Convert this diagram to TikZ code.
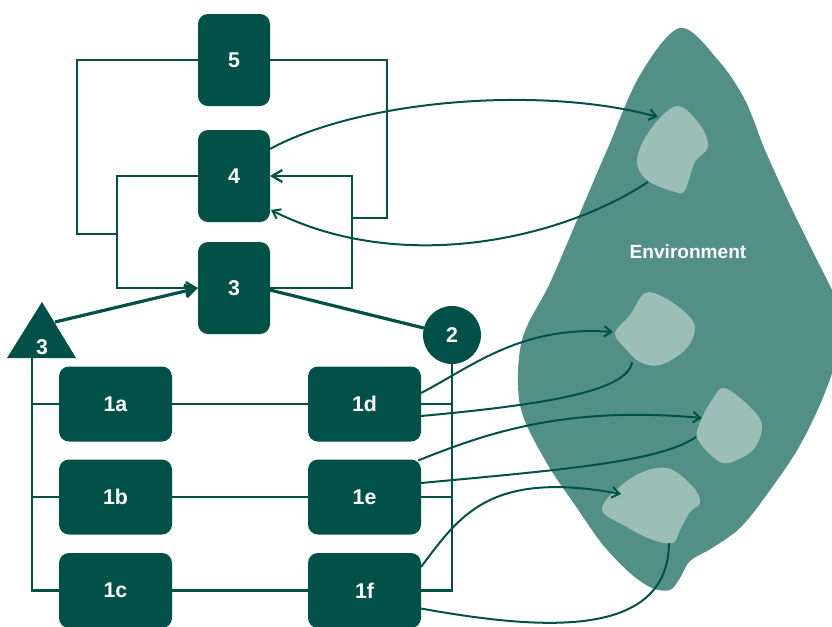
\documentclass[tikz,border=0pt]{standalone}
\usepackage{fontspec}
\setmainfont{Liberation Sans}
\usetikzlibrary{arrows.meta,calc}
\definecolor{dk}{RGB}{2,81,72}
\definecolor{envc}{RGB}{82,143,135}
\definecolor{lt}{RGB}{155,190,183}
\begin{document}
\begin{tikzpicture}[x=0.75pt,y=-0.75pt,
  box/.style={fill=dk,rounded corners=7.5pt,inner sep=0pt,outer sep=0pt,text=white,font=\bfseries\fontsize{16}{16}\selectfont},
  tall/.style={box,minimum width=54pt,minimum height=69pt},
  wide/.style={box,minimum width=84.75pt,minimum height=56.25pt},
  ln/.style={draw=dk,line width=1.7pt},
  thk/.style={draw=dk,line width=2.4pt},
  crv/.style={draw=dk,line width=1.5pt},
  arr/.style={-{Straight Barb[length=7.5pt,width=9pt]}},
  carr/.style={-{Straight Barb[length=5.5pt,width=8pt]}},
  lbl/.style={text=white,font=\bfseries\fontsize{16}{16}\selectfont,inner sep=0pt}
]
\useasboundingbox (0,0) rectangle (832,626);
\begin{scope}
\clip (0,0) rectangle (832,626);
\fill[envc] plot[smooth cycle,tension=0.55] coordinates {(680,28) (718,60) (745,100) (765,150) (790,205) (812,250) (836,300) (842,335) (826,390) (799,447) (765,497) (740,528) (712,548) (690,561) (680,578) (670,590) (652,588) (630,573) (603,545) (577,508) (545,460) (520,405) (522,340) (550,283) (580,213) (607,150) (640,75)};
\end{scope}
% light blobs
\fill[lt] plot[smooth cycle,tension=0.6] coordinates {(677,106) (700,125) (708,147) (695,162) (685,190) (675,192) (647,180) (637,160) (650,130)};
\fill[lt] plot[smooth cycle,tension=0.6] coordinates {(615,333) (630,315) (645,293) (665,298) (688,315) (695,330) (685,350) (660,365) (640,362) (625,348)};
\fill[lt] plot[smooth cycle,tension=0.6] coordinates {(725,388) (753,410) (762,427) (753,450) (728,463) (713,457) (697,437) (702,418) (712,400)};
\fill[lt] plot[smooth cycle,tension=0.6] coordinates {(602,508) (633,477) (667,468) (693,487) (700,503) (690,512) (680,530) (673,543) (653,540) (627,527)};
\node[lbl,font=\bfseries\fontsize{14.3}{14.3}\selectfont] (envlabel) at (688,252) {Environment};
\coordinate (bl1in) at (658,117);
\coordinate (bl1out) at (648,182);
\coordinate (bl2in) at (613,332);
\coordinate (bl2out) at (632,362);
\coordinate (bl3in) at (702,418);
\coordinate (bl3out) at (696,437);
\coordinate (bl4in) at (621,494);
\coordinate (bl4out) at (669,543);
% boxes
\node[tall] (b5) at (234,60) {5};
\node[tall] (b4) at (234,176) {4};
\node[tall] (b3) at (234,288) {3};
\node[wide] (b1a) at (115.5,404) {1a};
\node[wide] (b1b) at (115.5,497) {1b};
\node[wide] (b1c) at (115.5,590.5) {1c};
\node[wide] (b1d) at (364.5,404) {1d};
\node[wide] (b1e) at (364.5,497) {1e};
\node[wide] (b1f) at (364.5,590.5) {1f};
\node[circle,fill=dk,minimum size=43.5pt,inner sep=0pt,outer sep=0pt,text=white,font=\bfseries\fontsize{16}{16}\selectfont] (c2) at (452,335) {2};
% triangle
\fill[dk] (42,302) -- (76,358) -- (7,358) -- cycle;
\node[lbl] (t3) at (42,347) {3};
\coordinate (triR) at (55,322);
\coordinate (triB) at (32,358);
% loops around 3,4,5
\coordinate (lA) at (117,176);
\coordinate (lB) at (352,288);
\coordinate (lC) at (77,234);
\coordinate (lD) at (117,234);
\coordinate (lE) at (387,218);
\coordinate (lF) at (352,218);
\draw[ln] (b5.west) -| (lC) -- (lD);
\draw[ln] (b5.east) -| (lE) -- (lF);
\draw[ln,arr] (b4.west) -- (lA) |- (b3.west);
\draw[ln,arr] (b3.east) -- (lB) |- (b4.east);
\draw[thk,arr] (triR) -- (b3.west);
\draw[thk] ($(b3.east)+(0,2)$) -- (c2);
% left bus
\coordinate (L1) at (32,404);
\coordinate (L2) at (32,497);
\draw[ln] (triB) |- (b1c.west);
\draw[ln] (L1) -- (b1a.west);
\draw[ln] (L2) -- (b1b.west);
% right bus
\coordinate (R1) at (452,404);
\coordinate (R2) at (452,497);
\draw[ln] (c2.south) |- (b1f.east);
\draw[ln] (b1d.east) -- (R1);
\draw[ln] (b1e.east) -- (R2);
% horizontals
\draw[ln] (b1a.east) -- (b1d.west);
\draw[ln] (b1b.east) -- (b1e.west);
\draw[ln] (b1c.east) -- (b1f.west);
% curves to environment
\draw[crv,carr] ($(b4.east)+(0,-27)$) .. controls (360,100) and (540,85) .. (bl1in);
\draw[crv,carr] (bl1out) .. controls (560,240) and (400,275) .. ($(b4.east)+(1,34)$);
\draw[crv,carr] ($(b1d.east)+(0,-11)$) .. controls (470,368) and (520,325) .. (bl2in);
\draw[crv] (bl2out) .. controls (628,392) and (540,405) .. ($(b1d.east)+(0,12)$);
\draw[crv,carr] ($(b1e.north east)+(-3,1)$) .. controls (480,436) and (560,405) .. (bl3in);
\draw[crv] (bl3out) .. controls (660,462) and (560,470) .. ($(b1e.east)+(0,-14)$);
\draw[crv,carr] ($(b1f.north east)+(0,14)$) .. controls (460,515) and (490,470) .. (bl4in);
\draw[crv] (bl4out) .. controls (668,640) and (540,630) .. ($(b1f.east)+(0,18)$);
\end{tikzpicture}
\end{document}
